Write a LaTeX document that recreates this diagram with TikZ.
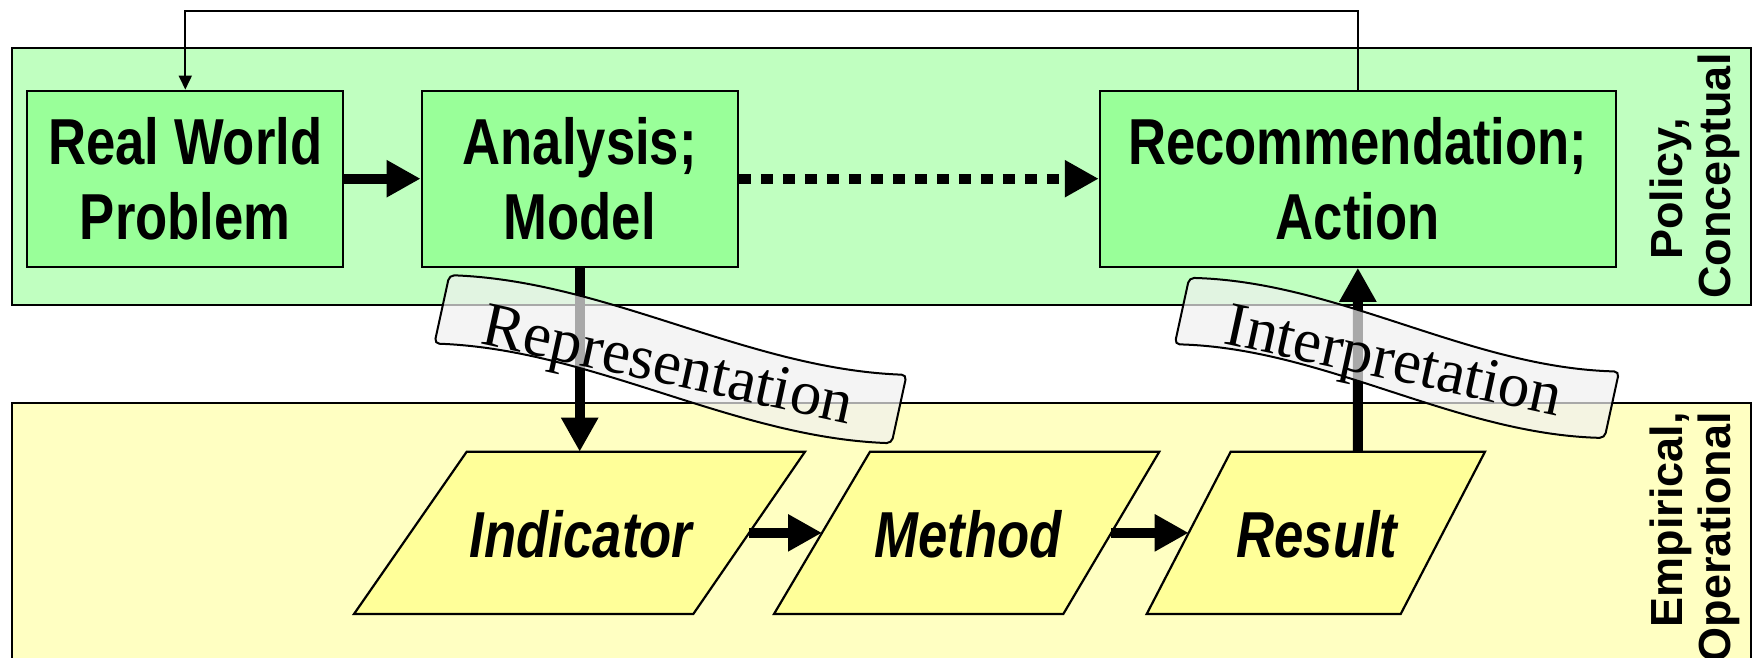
\documentclass[tikz,border=0pt]{standalone}
\usepackage{fontspec}
\usetikzlibrary{arrows.meta,calc}
\newfontfamily\narrowsans[FakeStretch=0.81]{Liberation Sans}
\newfontfamily\labelsans{Liberation Sans}
\newfontfamily\bannerserif{Liberation Serif}
\definecolor{panelgreen}{RGB}{192,255,192}
\definecolor{boxgreen}{RGB}{153,255,153}
\definecolor{panelyellow}{RGB}{255,255,194}
\definecolor{boxyellow}{RGB}{255,255,153}
\definecolor{bannerfill}{RGB}{240,240,240}
\begin{document}
\begin{tikzpicture}[x=1pt,y=-1pt,
  panel/.style={draw=black, line width=2pt},
  gbox/.style={draw=black, line width=2.2pt, fill=boxgreen, align=center, inner sep=0pt,
    minimum height=176pt, font=\narrowsans\bfseries\fontsize{65}{75}\selectfont},
  pshape/.style={draw=black, line width=2.2pt, fill=boxyellow, line join=miter},
  ptext/.style={inner sep=0pt, font=\narrowsans\bfseries\itshape\fontsize{65}{75}\selectfont},
  bigarrow/.style={line width=10pt, -{Triangle[length=34pt,width=35pt]}},
  fbline/.style={line width=1.8pt, -{Triangle[length=14pt,width=13pt]}},
  banner/.style={draw=black, line width=2pt, fill=bannerfill, fill opacity=0.7, rounded corners=5pt},
  bannertext/.style={font=\bannerserif\fontsize{63}{63}\selectfont, inner sep=0pt},
  sidelabel/.style={font=\labelsans\bfseries\fontsize{45}{48}\selectfont, inner sep=0pt, rotate=90}
]
\clip (0,0) rectangle (1756,658);
\fill[white] (0,0) rectangle (1756,658);

% panels
\filldraw[panel, fill=panelgreen] (12,48) rectangle (1751,305);
\filldraw[panel, fill=panelyellow] (12,402.6) rectangle (1751,720);

% boxes (conceptual level)
\node[gbox, minimum width=316pt] (rwp) at (185.3,178.7) {Real World\\Problem};
\node[gbox, minimum width=316pt] (ana) at (579.7,178.7) {Analysis;\\Model};
\node[gbox, minimum width=516pt] (rec) at (1357.85,178.7) {Recommendation;\\Action};

% parallelograms (operational level)
\filldraw[pshape] (466.7,451.7) coordinate (ind-tl) -- (805,451.7) coordinate (ind-tr)
  -- (693.3,614) coordinate (ind-br) -- (354,614) coordinate (ind-bl) -- cycle;
\filldraw[pshape] (870,451.7) coordinate (met-tl) -- (1159.3,451.7) coordinate (met-tr)
  -- (1063.3,614) coordinate (met-br) -- (774,614) coordinate (met-bl) -- cycle;
\filldraw[pshape] (1230.7,451.7) coordinate (res-tl) -- (1485,451.7) coordinate (res-tr)
  -- (1400.7,614) coordinate (res-br) -- (1146.7,614) coordinate (res-bl) -- cycle;
\node[ptext] (ind) at (581,534) {Indicator};
\node[ptext] (met) at (968,534) {Method};
\node[ptext] (res) at (1317,534) {Result};
\coordinate (ind-r) at ($(ind-tr)!0.5!(ind-br)$);
\coordinate (met-l) at ($(met-tl)!0.5!(met-bl)$);
\coordinate (met-r) at ($(met-tr)!0.5!(met-br)$);
\coordinate (res-l) at ($(res-tl)!0.5!(res-bl)$);
\coordinate (res-t) at ($(res-tl)!0.5!(res-tr)$);

% feedback line
\coordinate (fbtop) at (0,11);
\draw[fbline] (rec.north) -- (rec.north |- fbtop) -| (rwp.north);

% arrows
\draw[bigarrow] (rwp.east) -- (ana.west);
\draw[bigarrow, dash pattern=on 12pt off 10pt] (ana.east) -- (rec.west);
\draw[bigarrow] (ana.south) -- (ana.south |- ind-tl);
\draw[bigarrow] (res-t) -- (rec.south);
\draw[bigarrow] (ind-r) -- (met-l);
\draw[bigarrow] (met-r) -- (res-l);

% banners
\begin{scope}[shift={(670.5,359.2)}, rotate=-12.3]
  \draw[banner] (-234,-35) .. controls (-78,-63) and (78,-7) .. (234,-35)
    -- (234,35) .. controls (78,63) and (-78,7) .. (-234,35) -- cycle;
\end{scope}
\node[bannertext, rotate=-12.3] (rep) at (667,370) {Representation};

\begin{scope}[shift={(1396.9,357.9)}, rotate=-12.3]
  \draw[banner] (-220,-34) .. controls (-73,-62) and (73,-6) .. (220,-34)
    -- (220,34) .. controls (73,62) and (-73,6) .. (-220,34) -- cycle;
\end{scope}
\node[bannertext, rotate=-12.3] (int) at (1393,366) {Interpretation};

% side labels
\node[sidelabel, align=center] (pol) at (1694.5,176) {Policy,\hspace*{26pt}\\Conceptual};
\node[sidelabel, align=right, anchor=east] (emp) at (1694.5,412) {Empirical,\\Operational};
\end{tikzpicture}
\end{document}
